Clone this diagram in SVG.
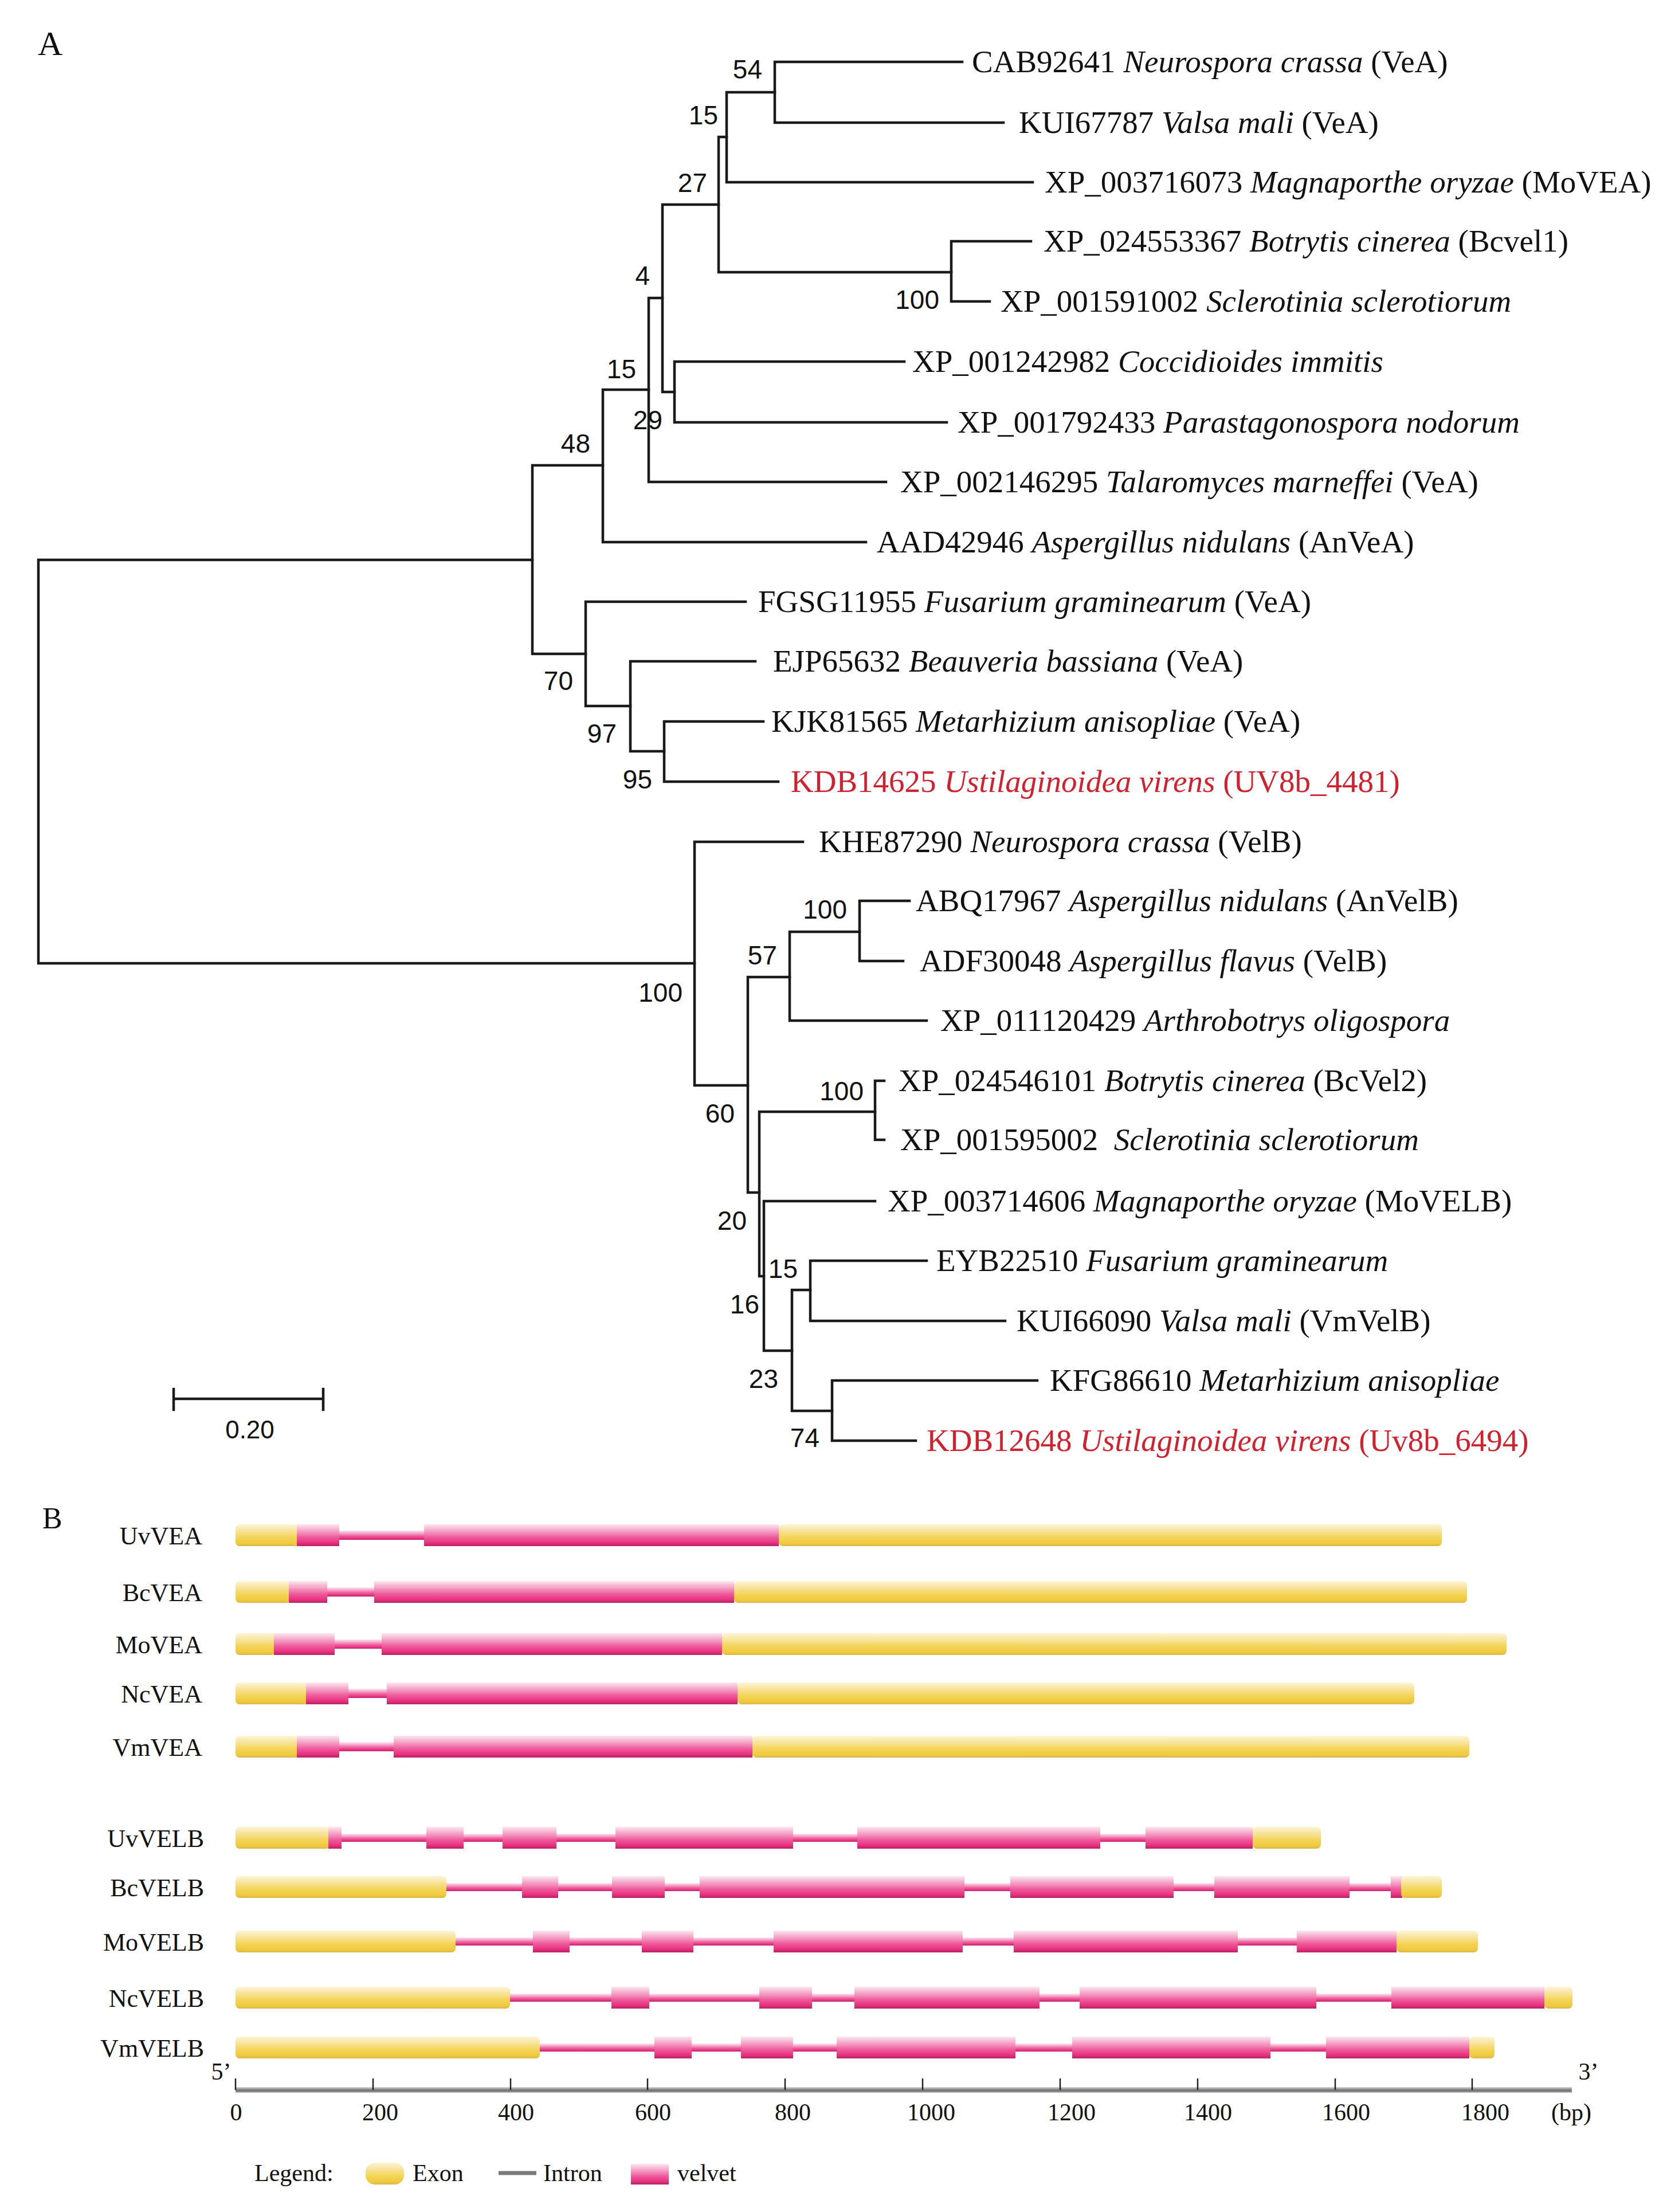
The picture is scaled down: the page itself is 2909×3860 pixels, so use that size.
<svg xmlns="http://www.w3.org/2000/svg" width="2909" height="3860" viewBox="0 0 2909 3860">
<defs>
<linearGradient id="gEx" x1="0" y1="0" x2="0" y2="1">
<stop offset="0" stop-color="#fdf5d6"/><stop offset="0.3" stop-color="#f8e39c"/><stop offset="0.6" stop-color="#f4d458"/><stop offset="0.88" stop-color="#efc93e"/><stop offset="1" stop-color="#d9b64c"/>
</linearGradient>
<linearGradient id="gVe" x1="0" y1="0" x2="0" y2="1">
<stop offset="0" stop-color="#fde6ef"/><stop offset="0.3" stop-color="#f4a3c6"/><stop offset="0.6" stop-color="#ee5a9c"/><stop offset="0.85" stop-color="#e8317f"/><stop offset="1" stop-color="#b42462"/>
</linearGradient>
<linearGradient id="gAx" x1="0" y1="0" x2="0" y2="1">
<stop offset="0" stop-color="#d8d8d8"/><stop offset="0.4" stop-color="#8a8a8a"/><stop offset="0.7" stop-color="#6e6e6e"/><stop offset="1" stop-color="#d0d0d0"/>
</linearGradient>
</defs>
<style>
.t{font-family:"Liberation Serif","Times New Roman",serif;font-size:55px;fill:#111}
.i{font-style:italic}
.r{fill:#d0212f}
.bs{font-family:"Liberation Sans",Arial,sans-serif;font-size:46px;fill:#111;text-anchor:end}
.br{fill:none;stroke:#1a1a1a;stroke-width:4.5;stroke-linejoin:miter;stroke-linecap:square}
.pl{font-family:"Liberation Serif","Times New Roman",serif;fill:#111}
.gl{font-family:"Liberation Serif","Times New Roman",serif;font-size:44px;fill:#111;text-anchor:end}
.ax{font-family:"Liberation Serif","Times New Roman",serif;font-size:42px;fill:#111}
.ex{fill:url(#gEx)}
.ve{fill:url(#gVe)}
.tk{stroke:#222;stroke-width:2.5}
</style>
<rect width="2909" height="3860" fill="#fff"/>

<text class="pl" x="66" y="96" font-size="60">A</text>

<g id="connectors">
<path class="br" d="M929,977 H67 V1681 H1212"/>
<path class="br" d="M1052,812 H929 V1141 H1022"/>
<path class="br" d="M1132,680 H1052 V946 H1511"/>
<path class="br" d="M1156,520 H1132 V841 H1546"/>
<path class="br" d="M1254,357 H1156 V684 H1177"/>
<path class="br" d="M1578,631 H1177 V737 H1652"/>
<path class="br" d="M1268,239 H1254 V475 H1660"/>
<path class="br" d="M1799,421 H1660 V526 H1727"/>
<path class="br" d="M1352,161 H1268 V318 H1802"/>
<path class="br" d="M1679,108 H1352 V214 H1751"/>
<path class="br" d="M1301,1050 H1022 V1232 H1100"/>
<path class="br" d="M1318,1154 H1100 V1311 H1159"/>
<path class="br" d="M1332,1259 H1159 V1364 H1358"/>
<path class="br" d="M1401,1469 H1212 V1894 H1305"/>
<path class="br" d="M1378,1705 H1305 V2081 H1325"/>
<path class="br" d="M1500,1626 H1378 V1781 H1617"/>
<path class="br" d="M1587,1572 H1500 V1677 H1576"/>
<path class="br" d="M1527,1940 H1325 V2227 H1333"/>
<path class="br" d="M1543,1886 H1527 V1989 H1543"/>
<path class="br" d="M1527,2096 H1333 V2357 H1382"/>
<path class="br" d="M1414,2251 H1382 V2462 H1452"/>
<path class="br" d="M1617,2200 H1414 V2305 H1754"/>
<path class="br" d="M1810,2409 H1452 V2514 H1598"/>
</g>

<g id="bootstrap">
<text class="bs" x="1330" y="137">54</text>
<text class="bs" x="1253" y="217">15</text>
<text class="bs" x="1234" y="335">27</text>
<text class="bs" x="1134" y="497">4</text>
<text class="bs" x="1110" y="660">15</text>
<text class="bs" x="1156" y="749">29</text>
<text class="bs" x="1030" y="790">48</text>
<text class="bs" x="1639" y="539">100</text>
<text class="bs" x="1000" y="1204">70</text>
<text class="bs" x="1076" y="1296">97</text>
<text class="bs" x="1138" y="1376">95</text>
<text class="bs" x="1191" y="1748">100</text>
<text class="bs" x="1478" y="1603">100</text>
<text class="bs" x="1356" y="1683">57</text>
<text class="bs" x="1282" y="1959">60</text>
<text class="bs" x="1507" y="1920">100</text>
<text class="bs" x="1303" y="2146">20</text>
<text class="bs" x="1392" y="2230">15</text>
<text class="bs" x="1325" y="2292">16</text>
<text class="bs" x="1358" y="2422">23</text>
<text class="bs" x="1430" y="2525">74</text>
</g>

<g id="leaf-CAB92641"><text class="t" x="1696" y="126">CAB92641 <tspan class="i">Neurospora crassa</tspan> (VeA)</text></g>
<g id="leaf-KUI67787"><text class="t" x="1778" y="232">KUI67787 <tspan class="i">Valsa mali</tspan> (VeA)</text></g>
<g id="leaf-XP_003716073"><text class="t" x="1823" y="336">XP_003716073 <tspan class="i">Magnaporthe oryzae</tspan> (MoVEA)</text></g>
<g id="leaf-XP_024553367"><text class="t" x="1821" y="439">XP_024553367 <tspan class="i">Botrytis cinerea</tspan> (Bcvel1)</text></g>
<g id="leaf-XP_001591002"><text class="t" x="1746" y="544">XP_001591002 <tspan class="i">Sclerotinia sclerotiorum</tspan></text></g>
<g id="leaf-XP_001242982"><text class="t" x="1592" y="649">XP_001242982 <tspan class="i">Coccidioides immitis</tspan></text></g>
<g id="leaf-XP_001792433"><text class="t" x="1671" y="755">XP_001792433 <tspan class="i">Parastagonospora nodorum</tspan></text></g>
<g id="leaf-XP_002146295"><text class="t" x="1571" y="859">XP_002146295 <tspan class="i">Talaromyces marneffei</tspan> (VeA)</text></g>
<g id="leaf-AAD42946"><text class="t" x="1530" y="964">AAD42946 <tspan class="i">Aspergillus nidulans</tspan> (AnVeA)</text></g>
<g id="leaf-FGSG11955"><text class="t" x="1323" y="1068">FGSG11955 <tspan class="i">Fusarium graminearum</tspan> (VeA)</text></g>
<g id="leaf-EJP65632"><text class="t" x="1349" y="1172">EJP65632 <tspan class="i">Beauveria bassiana</tspan> (VeA)</text></g>
<g id="leaf-KJK81565"><text class="t" x="1346" y="1277">KJK81565 <tspan class="i">Metarhizium anisopliae</tspan> (VeA)</text></g>
<g id="leaf-KDB14625"><text class="t r" x="1380" y="1382">KDB14625 <tspan class="i">Ustilaginoidea virens</tspan> (UV8b_4481)</text></g>
<g id="leaf-KHE87290"><text class="t" x="1429" y="1487">KHE87290 <tspan class="i">Neurospora crassa</tspan> (VelB)</text></g>
<g id="leaf-ABQ17967"><text class="t" x="1598" y="1590">ABQ17967 <tspan class="i">Aspergillus nidulans</tspan> (AnVelB)</text></g>
<g id="leaf-ADF30048"><text class="t" x="1605" y="1695">ADF30048 <tspan class="i">Aspergillus flavus</tspan> (VelB)</text></g>
<g id="leaf-XP_011120429"><text class="t" x="1641" y="1799">XP_011120429 <tspan class="i">Arthrobotrys oligospora</tspan></text></g>
<g id="leaf-XP_024546101"><text class="t" x="1568" y="1904">XP_024546101 <tspan class="i">Botrytis cinerea</tspan> (BcVel2)</text></g>
<g id="leaf-XP_001595002"><text class="t" x="1571" y="2007" xml:space="preserve">XP_001595002  <tspan class="i">Sclerotinia sclerotiorum</tspan></text></g>
<g id="leaf-XP_003714606"><text class="t" x="1549" y="2114">XP_003714606 <tspan class="i">Magnaporthe oryzae</tspan> (MoVELB)</text></g>
<g id="leaf-EYB22510"><text class="t" x="1634" y="2218">EYB22510 <tspan class="i">Fusarium graminearum</tspan></text></g>
<g id="leaf-KUI66090"><text class="t" x="1774" y="2323">KUI66090 <tspan class="i">Valsa mali</tspan> (VmVelB)</text></g>
<g id="leaf-KFG86610"><text class="t" x="1832" y="2427">KFG86610 <tspan class="i">Metarhizium anisopliae</tspan></text></g>
<g id="leaf-KDB12648"><text class="t r" x="1617" y="2532">KDB12648 <tspan class="i">Ustilaginoidea virens</tspan> (Uv8b_6494)</text></g>

<g id="scalebar">
<path class="br" d="M303,2441 H564 M303,2424 V2460 M564,2424 V2460" stroke-linecap="butt"/>
<text x="436" y="2510" font-family="Liberation Sans, Arial, sans-serif" font-size="44" fill="#111" text-anchor="middle">0.20</text>
</g>

<text class="pl" x="74" y="2667" font-size="52">B</text>

<g id="gene-UvVEA">
<text class="gl" x="353" y="2695">UvVEA</text>
<rect class="ve" x="590" y="2671" width="152" height="16"/>
<rect class="ex" x="411" y="2660" width="110" height="38" rx="7"/>
<rect class="ve" x="518" y="2660" width="74" height="38"/>
<rect class="ve" x="740" y="2660" width="619" height="38"/>
<rect class="ex" x="1359" y="2660" width="1157" height="38" rx="7"/>
</g>
<g id="gene-BcVEA">
<text class="gl" x="353" y="2794">BcVEA</text>
<rect class="ve" x="569" y="2770" width="86" height="16"/>
<rect class="ex" x="411" y="2759" width="96" height="38" rx="7"/>
<rect class="ve" x="504" y="2759" width="67" height="38"/>
<rect class="ve" x="653" y="2759" width="628" height="38"/>
<rect class="ex" x="1281" y="2759" width="1279" height="38" rx="7"/>
</g>
<g id="gene-MoVEA">
<text class="gl" x="353" y="2885">MoVEA</text>
<rect class="ve" x="582" y="2861" width="86" height="16"/>
<rect class="ex" x="411" y="2850" width="70" height="38" rx="7"/>
<rect class="ve" x="478" y="2850" width="106" height="38"/>
<rect class="ve" x="666" y="2850" width="594" height="38"/>
<rect class="ex" x="1260" y="2850" width="1369" height="38" rx="7"/>
</g>
<g id="gene-NcVEA">
<text class="gl" x="353" y="2971">NcVEA</text>
<rect class="ve" x="606" y="2947" width="71" height="16"/>
<rect class="ex" x="411" y="2936" width="126" height="38" rx="7"/>
<rect class="ve" x="534" y="2936" width="74" height="38"/>
<rect class="ve" x="675" y="2936" width="612" height="38"/>
<rect class="ex" x="1287" y="2936" width="1181" height="38" rx="7"/>
</g>
<g id="gene-VmVEA">
<text class="gl" x="353" y="3064">VmVEA</text>
<rect class="ve" x="590" y="3040" width="99" height="16"/>
<rect class="ex" x="411" y="3029" width="110" height="38" rx="7"/>
<rect class="ve" x="518" y="3029" width="74" height="38"/>
<rect class="ve" x="687" y="3029" width="626" height="38"/>
<rect class="ex" x="1313" y="3029" width="1251" height="38" rx="7"/>
</g>

<g id="gene-UvVELB">
<text class="gl" x="356" y="3223">UvVELB</text>
<rect class="ve" x="573" y="3200" width="1613" height="14"/>
<rect class="ex" x="411" y="3188" width="165" height="38" rx="7"/>
<rect class="ve" x="573" y="3188" width="23" height="38"/>
<rect class="ve" x="744" y="3188" width="65" height="38"/>
<rect class="ve" x="877" y="3188" width="94" height="38"/>
<rect class="ve" x="1074" y="3188" width="310" height="38"/>
<rect class="ve" x="1496" y="3188" width="424" height="38"/>
<rect class="ve" x="1999" y="3188" width="187" height="38"/>
<rect class="ex" x="2186" y="3188" width="119" height="38" rx="7"/>
</g>
<g id="gene-BcVELB">
<text class="gl" x="356" y="3309">BcVELB</text>
<rect class="ve" x="775" y="3286" width="1672" height="14"/>
<rect class="ex" x="411" y="3274" width="368" height="38" rx="7"/>
<rect class="ve" x="911" y="3274" width="63" height="38"/>
<rect class="ve" x="1068" y="3274" width="92" height="38"/>
<rect class="ve" x="1221" y="3274" width="462" height="38"/>
<rect class="ve" x="1763" y="3274" width="285" height="38"/>
<rect class="ve" x="2119" y="3274" width="236" height="38"/>
<rect class="ve" x="2427" y="3274" width="20" height="38"/>
<rect class="ex" x="2445" y="3274" width="71" height="38" rx="7"/>
</g>
<g id="gene-MoVELB">
<text class="gl" x="356" y="3404">MoVELB</text>
<rect class="ve" x="791" y="3381" width="1648" height="14"/>
<rect class="ex" x="411" y="3369" width="384" height="38" rx="7"/>
<rect class="ve" x="930" y="3369" width="64" height="38"/>
<rect class="ve" x="1120" y="3369" width="90" height="38"/>
<rect class="ve" x="1350" y="3369" width="330" height="38"/>
<rect class="ve" x="1769" y="3369" width="391" height="38"/>
<rect class="ve" x="2263" y="3369" width="174" height="38"/>
<rect class="ex" x="2437" y="3369" width="142" height="38" rx="7"/>
</g>
<g id="gene-NcVELB">
<text class="gl" x="356" y="3502">NcVELB</text>
<rect class="ve" x="886" y="3479" width="1811" height="14"/>
<rect class="ex" x="411" y="3467" width="479" height="38" rx="7"/>
<rect class="ve" x="1067" y="3467" width="66" height="38"/>
<rect class="ve" x="1325" y="3467" width="92" height="38"/>
<rect class="ve" x="1491" y="3467" width="323" height="38"/>
<rect class="ve" x="1884" y="3467" width="413" height="38"/>
<rect class="ve" x="2428" y="3467" width="267" height="38"/>
<rect class="ex" x="2695" y="3467" width="49" height="38" rx="7"/>
</g>
<g id="gene-VmVELB">
<text class="gl" x="356" y="3589">VmVELB</text>
<rect class="ve" x="938" y="3566" width="1628" height="14"/>
<rect class="ex" x="411" y="3554" width="531" height="38" rx="7"/>
<rect class="ve" x="1142" y="3554" width="65" height="38"/>
<rect class="ve" x="1293" y="3554" width="91" height="38"/>
<rect class="ve" x="1460" y="3554" width="312" height="38"/>
<rect class="ve" x="1871" y="3554" width="346" height="38"/>
<rect class="ve" x="2314" y="3554" width="250" height="38"/>
<rect class="ex" x="2564" y="3554" width="44" height="38" rx="7"/>
</g>

<g id="axis">
<rect x="411" y="3642" width="2332" height="10" fill="url(#gAx)"/>
<path class="tk" d="M411,3627V3647 M651,3627V3647 M891,3627V3647 M1130,3627V3647 M1370,3627V3647 M1610,3627V3647 M1850,3627V3647 M2090,3627V3647 M2330,3627V3647 M2569,3627V3647"/>
<text class="ax" x="386" y="3629" text-anchor="middle">5’</text>
<text class="ax" x="2772" y="3629" text-anchor="middle">3’</text>
<text class="ax" x="412" y="3700" text-anchor="middle">0</text>
<text class="ax" x="632" y="3700">200</text>
<text class="ax" x="869" y="3700">400</text>
<text class="ax" x="1108" y="3700">600</text>
<text class="ax" x="1352" y="3700">800</text>
<text class="ax" x="1583" y="3700">1000</text>
<text class="ax" x="1828" y="3700">1200</text>
<text class="ax" x="2066" y="3700">1400</text>
<text class="ax" x="2307" y="3700">1600</text>
<text class="ax" x="2550" y="3700">1800</text>
<text class="ax" x="2707" y="3700">(bp)</text>
</g>

<g id="legend">
<text class="ax" x="444" y="3806" font-size="43">Legend:</text>
<rect class="ex" x="638" y="3774" width="67" height="38" rx="16"/>
<text class="ax" x="720" y="3806" font-size="43">Exon</text>
<line x1="870" y1="3792" x2="936" y2="3792" stroke="#7a7a7a" stroke-width="7"/>
<text class="ax" x="948" y="3806" font-size="43">Intron</text>
<rect class="ve" x="1101" y="3776" width="66" height="36"/>
<text class="ax" x="1182" y="3806" font-size="43">velvet</text>
</g>
</svg>
